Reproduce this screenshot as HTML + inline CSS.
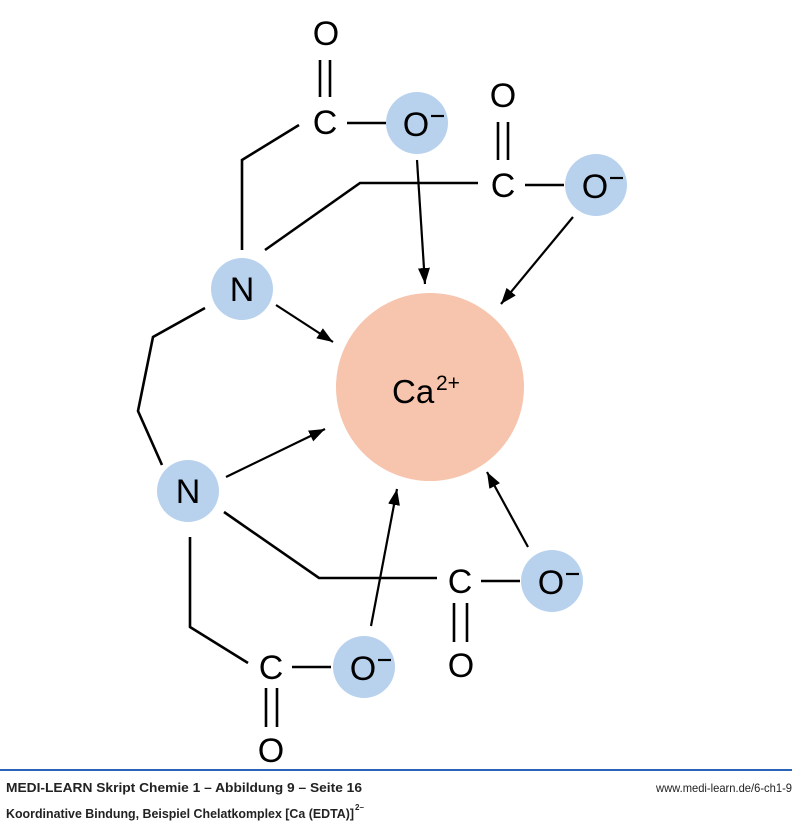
<!DOCTYPE html>
<html><head><meta charset="utf-8"><style>
html,body{margin:0;padding:0;background:#fff;}
svg{display:block;}
</style></head><body>
<svg width="800" height="824" viewBox="0 0 800 824" xmlns="http://www.w3.org/2000/svg">
<defs>
<marker id="ah" viewBox="0 0 16 12" refX="16" refY="6" markerWidth="16" markerHeight="12" markerUnits="userSpaceOnUse" orient="auto">
<path d="M0,0 L16,6 L0,12 z" fill="#000"/>
</marker>
</defs>
<g fill="#b8d2ee">
<circle cx="417" cy="123" r="31"/>
<circle cx="596" cy="185" r="31"/>
<circle cx="242" cy="289" r="31"/>
<circle cx="188" cy="491" r="31"/>
<circle cx="552" cy="581" r="31"/>
<circle cx="364" cy="667" r="31"/>
</g>
<circle cx="430" cy="387" r="94" fill="#f7c4ad"/>
<g stroke="#000" stroke-width="2.6" fill="none">
<path d="M299,125 L242,160 L242,250"/>
<line x1="347" y1="123" x2="386" y2="123"/>
<line x1="320" y1="60" x2="320" y2="97"/><line x1="330" y1="60" x2="330" y2="97"/>
<path d="M265,250 L360,183 L478,183"/>
<line x1="525" y1="185" x2="564" y2="185"/>
<line x1="498" y1="122" x2="498" y2="160"/><line x1="508" y1="122" x2="508" y2="160"/>
<path d="M205,308 L153,337 L138,411 L162,465"/>
<path d="M224,512 L319,578 L437,578"/>
<line x1="481" y1="581" x2="520" y2="581"/>
<line x1="454" y1="603" x2="454" y2="642"/><line x1="467" y1="603" x2="467" y2="642"/>
<path d="M190,537 L190,627 L248,663"/>
<line x1="292" y1="667" x2="331" y2="667"/>
<line x1="266" y1="688" x2="266" y2="727"/><line x1="277" y1="688" x2="277" y2="727"/>
</g>
<g stroke="#000" stroke-width="2.2" fill="none" marker-end="url(#ah)">
<line x1="417" y1="160" x2="425" y2="284"/>
<line x1="573" y1="217" x2="501" y2="304"/>
<line x1="276" y1="305" x2="333" y2="342"/>
<line x1="226" y1="477" x2="325" y2="429"/>
<line x1="528" y1="547" x2="487" y2="472"/>
<line x1="371" y1="626" x2="397" y2="489"/>
</g>
<g font-family="Liberation Sans, sans-serif" font-size="34" fill="#000" text-anchor="middle">
<text x="326" y="45">O</text>
<text x="325" y="134">C</text>
<text x="416" y="136">O</text>
<text x="503" y="107">O</text>
<text x="503" y="197">C</text>
<text x="595" y="198">O</text>
<text x="242" y="301">N</text>
<text x="188" y="503">N</text>
<text x="460" y="593">C</text>
<text x="551" y="594">O</text>
<text x="461" y="677">O</text>
<text x="271" y="679">C</text>
<text x="363" y="680">O</text>
<text x="271" y="762">O</text>
</g>
<g stroke="#000" stroke-width="2.2">
<line x1="431" y1="116" x2="444" y2="116"/>
<line x1="610" y1="178" x2="623" y2="178"/>
<line x1="566" y1="574" x2="579" y2="574"/>
<line x1="378" y1="660" x2="391" y2="660"/>
</g>
<text x="392" y="403" font-family="Liberation Sans, sans-serif" font-size="33" fill="#000">Ca</text>
<text x="436" y="390" font-family="Liberation Sans, sans-serif" font-size="21" fill="#000">2+</text>
<line x1="0" y1="770" x2="792" y2="770" stroke="#2a63b8" stroke-width="2"/>
<g font-family="Liberation Sans, sans-serif" fill="#222">
<text x="6" y="792" font-size="13" font-weight="bold" textLength="356" lengthAdjust="spacingAndGlyphs">MEDI-LEARN Skript Chemie 1 – Abbildung 9 – Seite 16</text>
<text x="792" y="792" font-size="12" text-anchor="end" textLength="136" lengthAdjust="spacingAndGlyphs">www.medi-learn.de/6-ch1-9</text>
<text x="6" y="818" font-size="13" font-weight="bold" textLength="348" lengthAdjust="spacingAndGlyphs">Koordinative Bindung, Beispiel Chelatkomplex [Ca (EDTA)]</text>
<text x="355" y="810" font-size="8" font-weight="bold">2–</text>
</g>
</svg>
</body></html>
